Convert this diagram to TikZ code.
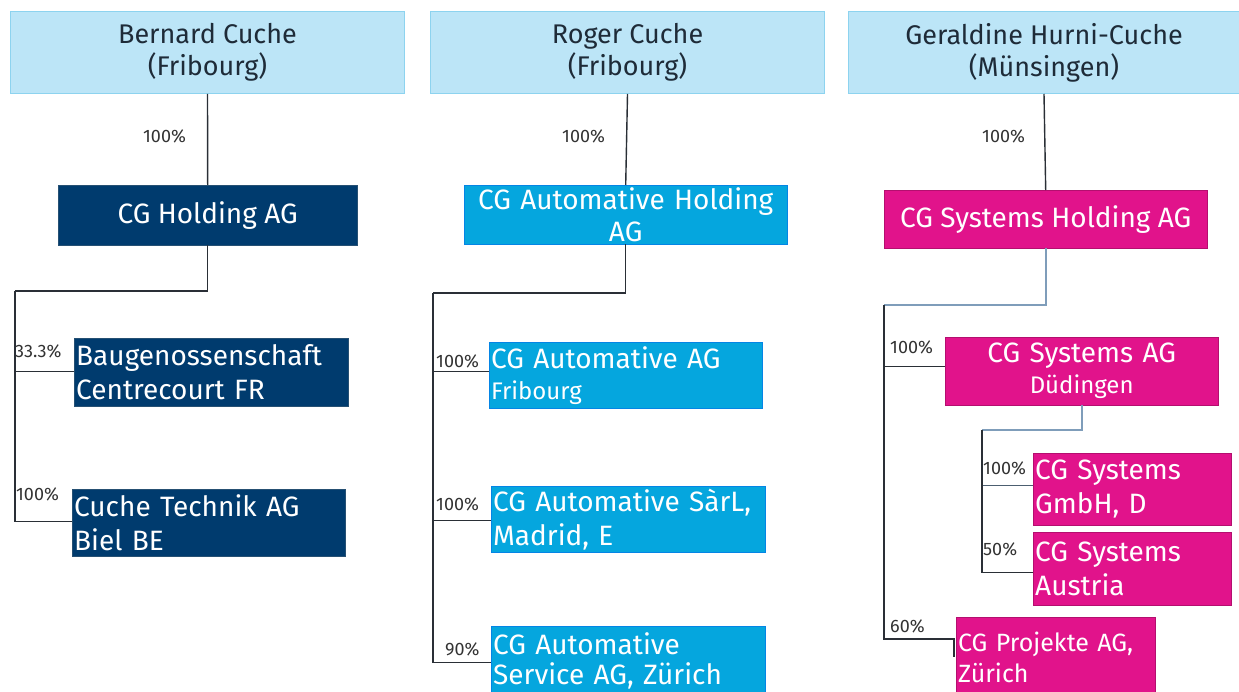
\documentclass[tikz,border=0pt]{standalone}
\usepackage{fontspec}
\setmainfont{Fira Sans}
\usetikzlibrary{calc}
\definecolor{topfill}{HTML}{BCE5F7}
\definecolor{topline}{HTML}{8DD3EF}
\definecolor{navy}{HTML}{003B6E}
\definecolor{cyanbox}{HTML}{05A6DE}
\definecolor{magbox}{HTML}{E1138B}
\definecolor{txtdark}{HTML}{1E2B38}
\definecolor{linedark}{HTML}{2A2F36}
\definecolor{lineblue}{HTML}{7F9DBA}
\tikzset{
  x=1pt, y=-1pt,
  topbox/.style={draw=topline, line width=1pt, fill=topfill, text=txtdark, anchor=north west,
    inner sep=0pt, align=center, font=\fontsize{27}{32}\selectfont},
  cobox/.style={anchor=north west, inner xsep=2pt, inner ysep=0pt, text=white,
    font=\fontsize{28}{34}\selectfont},
  navyb/.style={cobox, fill=navy, draw=navy!70!gray},
  cyanb/.style={cobox, fill=cyanbox, draw=cyanbox!80!blue},
  magb/.style={cobox, fill=magbox, draw=magbox!80!black},
  conn/.style={draw=linedark, line width=1.4pt},
  connb/.style={draw=lineblue, line width=1.6pt},
  pct/.style={font=\fontsize{18}{20}\selectfont, text=black!80, inner sep=0pt, anchor=south west}
}
\newcommand{\smalltxt}{\fontsize{24}{28}\selectfont}
\begin{document}
\begin{tikzpicture}
\useasboundingbox (0,0) rectangle (1239,692);
\clip (0,0) rectangle (1239,692);
% top boxes
\node[topbox, minimum width=394pt, minimum height=82pt] (bern) at (10,11) {Bernard Cuche\\(Fribourg)};
\node[topbox, minimum width=394pt, minimum height=82pt] (roger) at (430,11) {Roger Cuche\\(Fribourg)};
\node[topbox, minimum width=391pt, minimum height=82pt] (ger) at (848,11) {Geraldine Hurni-Cuche\\(Münsingen)};

% column 1
\node[navyb, minimum width=299pt, minimum height=60pt, align=center] (cgh) at (58,185) {CG Holding AG};
\node[navyb, minimum width=274pt, minimum height=68pt, text width=270pt, align=left] (bau) at (74,338) {Baugenossenschaft\\Centrecourt FR};
\node[navyb, minimum width=273pt, minimum height=67pt, text width=269pt, align=left] (cte) at (72,489) {Cuche Technik AG\\Biel BE};
\coordinate (t1) at (15,291);
\draw[conn] (bern.south) -- (cgh.north);
\draw[conn] (cgh.south) |- (t1);
\draw[conn] (t1) |- ([yshift=1pt]bau.west);
\draw[conn] (t1) |- ([yshift=1pt]cte.west);
\node[pct] (p1) at (143,143) {100\%};
\node[pct] (p2) at (15,358) {33.3\%};
\node[pct] (p3) at (16,501) {100\%};

% column 2
\node[cyanb, minimum width=323pt, minimum height=59pt, text width=319pt, align=center, font=\fontsize{28}{32}\selectfont] (cah) at (464,185) {CG Automative Holding\\AG};
\node[cyanb, minimum width=273pt, minimum height=66pt, text width=269pt, align=left, font=\fontsize{28}{31}\selectfont] (ca1) at (489,342) {CG Automative AG\\{\smalltxt Fribourg}};
\node[cyanb, minimum width=274pt, minimum height=66pt, text width=270pt, align=left] (ca2) at (491,486) {CG Automative SàrL,\\Madrid, E};
\node[cyanb, minimum width=274pt, minimum height=70pt, text width=270pt, align=left, font=\fontsize{28}{30}\selectfont] (ca3) at (491,626) {CG Automative\\Service AG, Zürich};
\coordinate (t2) at (433,293);
\draw[conn] (roger.south) -- (cah.north);
\draw[conn] (cah.south) |- (t2);
\draw[conn] (t2) |- ([yshift=4pt]ca1.west);
\draw[conn] (t2) |- ([yshift=-1pt]ca2.west);
\draw[conn] (t2) |- ([yshift=-1pt]ca3.west);
\node[pct] (p4) at (562,143) {100\%};
\node[pct] (p5) at (436,368) {100\%};
\node[pct] (p6) at (436,511) {100\%};
\node[pct] (p7) at (445,656) {90\%};

% column 3
\node[magb, minimum width=323pt, minimum height=58pt, align=center] (csh) at (884,190) {CG Systems Holding AG};
\node[magb, minimum width=273pt, minimum height=68pt, text width=269pt, align=center, font=\fontsize{28}{31}\selectfont] (csa) at (945,337) {CG Systems AG\\{\smalltxt Düdingen}};
\node[magb, minimum width=198pt, minimum height=72pt, text width=194pt, align=left] (csg) at (1033,453) {CG Systems\\GmbH, D};
\node[magb, minimum width=198pt, minimum height=73pt, text width=194pt, align=left] (csau) at (1033,532) {CG Systems\\Austria};
\node[magb, minimum width=199pt, minimum height=80pt, text width=195pt, align=left, font=\fontsize{25}{31}\selectfont] (cpj) at (956,617) {CG Projekte AG,\\Zürich};
\coordinate (t3) at (884,305);
\coordinate (t4) at (982,430);
\coordinate (pj) at (954,639);
\draw[conn] (ger.south) -- (csh.north);
\draw[connb] (csh.south) |- (t3);
\draw[conn] (t3) |- ([yshift=5pt]csa.west);
\draw[conn] (t3) |- (pj) -- (pj |- cpj.west);
\draw[connb] (csa.south) |- (t4);
\draw[conn] (t4) -- (t4 |- csau.west);
\draw[draw=lineblue!60!black, line width=1.4pt] (t4) |- ([yshift=4pt]csg.west);
\draw[conn] (t4) |- ([yshift=-4pt]csau.west);
\node[pct] (p8) at (982,143) {100\%};
\node[pct] (p9) at (890,354) {100\%};
\node[pct] (p10) at (983,475) {100\%};
\node[pct] (p11) at (983,556) {50\%};
\node[pct] (p12) at (890,633) {60\%};
\end{tikzpicture}
\end{document}
